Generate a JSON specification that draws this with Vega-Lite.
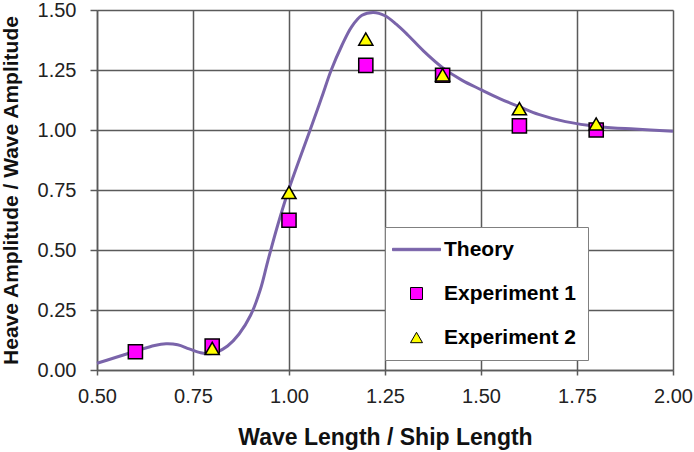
{
  "$schema": "https://vega.github.io/schema/vega-lite/v6.json",
  "width": 576,
  "height": 360,
  "autosize": {"type": "none"},
  "padding": {"left": 97, "top": 10, "right": 21, "bottom": 82},
  "background": "white",
  "config": {
    "view": {"stroke": null},
    "axis": {
      "grid": true,
      "labelFlush": false,
      "gridColor": "#5a5a5a",
      "gridWidth": 1.5,
      "domainColor": "#5a5a5a",
      "domainWidth": 1.5,
      "tickColor": "#5a5a5a",
      "tickWidth": 1.5,
      "labelFont": "Liberation Sans",
      "labelFontSize": 20,
      "labelColor": "#222222",
      "titleFont": "Liberation Sans",
      "titleFontSize": 21,
      "titleFontWeight": "bold",
      "titleColor": "#111111"
    },
    "legend": {
      "title": null,
      "orient": "none",
      "legendX": 288,
      "legendY": 217,
      "fillColor": "white",
      "strokeColor": "#808080",
      "padding": 12,
      "symbolOffset": 9,
      "labelOffset": 17,
      "symbolSize": 144,
      "symbolStrokeWidth": 1,
      "rowPadding": 22,
      "labelFont": "Liberation Sans",
      "labelFontSize": 21,
      "labelFontWeight": "bold",
      "labelColor": "#000000",
      "labelLimit": 300
    }
  },
  "data": {
    "values": [
      {"series": "Theory", "x": 0.50, "y": 0.028},
      {"series": "Theory", "x": 0.55, "y": 0.053},
      {"series": "Theory", "x": 0.60, "y": 0.078},
      {"series": "Theory", "x": 0.65, "y": 0.102},
      {"series": "Theory", "x": 0.68, "y": 0.109},
      {"series": "Theory", "x": 0.71, "y": 0.105},
      {"series": "Theory", "x": 0.74, "y": 0.088},
      {"series": "Theory", "x": 0.77, "y": 0.072},
      {"series": "Theory", "x": 0.79, "y": 0.068},
      {"series": "Theory", "x": 0.81, "y": 0.073},
      {"series": "Theory", "x": 0.84, "y": 0.100},
      {"series": "Theory", "x": 0.87, "y": 0.150},
      {"series": "Theory", "x": 0.90, "y": 0.228},
      {"series": "Theory", "x": 0.925, "y": 0.333},
      {"series": "Theory", "x": 0.945, "y": 0.455},
      {"series": "Theory", "x": 0.97, "y": 0.600},
      {"series": "Theory", "x": 1.00, "y": 0.755},
      {"series": "Theory", "x": 1.055, "y": 1.000},
      {"series": "Theory", "x": 1.085, "y": 1.135},
      {"series": "Theory", "x": 1.11, "y": 1.250},
      {"series": "Theory", "x": 1.137, "y": 1.350},
      {"series": "Theory", "x": 1.163, "y": 1.430},
      {"series": "Theory", "x": 1.19, "y": 1.478},
      {"series": "Theory", "x": 1.22, "y": 1.490},
      {"series": "Theory", "x": 1.25, "y": 1.476},
      {"series": "Theory", "x": 1.28, "y": 1.440},
      {"series": "Theory", "x": 1.31, "y": 1.395},
      {"series": "Theory", "x": 1.35, "y": 1.330},
      {"series": "Theory", "x": 1.40, "y": 1.260},
      {"series": "Theory", "x": 1.45, "y": 1.208},
      {"series": "Theory", "x": 1.50, "y": 1.168},
      {"series": "Theory", "x": 1.55, "y": 1.130},
      {"series": "Theory", "x": 1.60, "y": 1.097},
      {"series": "Theory", "x": 1.65, "y": 1.065},
      {"series": "Theory", "x": 1.72, "y": 1.035},
      {"series": "Theory", "x": 1.81, "y": 1.014},
      {"series": "Theory", "x": 1.90, "y": 1.004},
      {"series": "Theory", "x": 2.00, "y": 0.995},
      {"series": "Experiment 1", "x": 0.6, "y": 0.076},
      {"series": "Experiment 1", "x": 0.8, "y": 0.100},
      {"series": "Experiment 1", "x": 1.0, "y": 0.624},
      {"series": "Experiment 1", "x": 1.2, "y": 1.269},
      {"series": "Experiment 1", "x": 1.4, "y": 1.228},
      {"series": "Experiment 1", "x": 1.6, "y": 1.017},
      {"series": "Experiment 1", "x": 1.8, "y": 1.000},
      {"series": "Experiment 2", "x": 0.8, "y": 0.090},
      {"series": "Experiment 2", "x": 1.0, "y": 0.740},
      {"series": "Experiment 2", "x": 1.2, "y": 1.379},
      {"series": "Experiment 2", "x": 1.4, "y": 1.230},
      {"series": "Experiment 2", "x": 1.6, "y": 1.089},
      {"series": "Experiment 2", "x": 1.8, "y": 1.025}
    ]
  },
  "encoding": {
    "x": {
      "field": "x",
      "type": "quantitative",
      "scale": {"domain": [0.5, 2.0], "nice": false, "zero": false},
      "axis": {
        "title": "Wave Length / Ship Length",
        "titleFontSize": 23,
        "values": [0.5, 0.75, 1.0, 1.25, 1.5, 1.75, 2.0],
        "format": ".2f",
        "tickSize": 5,
        "labelPadding": 11,
        "titleX": 288,
        "titleY": 67,
        "titleBaseline": "middle",
        "titleAlign": "center"
      }
    },
    "y": {
      "field": "y",
      "type": "quantitative",
      "scale": {"domain": [0, 1.5], "nice": false},
      "axis": {
        "title": "Heave Amplitude / Wave Amplitude",
        "values": [0, 0.25, 0.5, 0.75, 1.0, 1.25, 1.5],
        "format": ".2f",
        "tickSize": 7,
        "labelPadding": 14,
        "titleX": -86,
        "titleY": 180,
        "titleAngle": -90,
        "titleBaseline": "middle",
        "titleAlign": "center"
      }
    }
  },
  "layer": [
    {
      "transform": [{"filter": "datum.series === 'Theory'"}],
      "mark": {"type": "line", "interpolate": "catmull-rom", "strokeWidth": 3},
      "encoding": {
        "stroke": {
          "field": "series",
          "type": "nominal",
          "scale": {"domain": ["Theory", "Experiment 1", "Experiment 2"], "range": ["#7a64aa", "#000000", "#000000"]}
        }
      }
    },
    {
      "transform": [{"filter": "datum.series !== 'Theory'"}],
      "mark": {"type": "point", "filled": true, "size": 200, "strokeWidth": 1.5, "opacity": 1},
      "encoding": {
        "shape": {
          "field": "series",
          "type": "nominal",
          "scale": {"domain": ["Theory", "Experiment 1", "Experiment 2"], "range": ["M-4,-0.2H4V0.2H-4Z", "square", "triangle-up"]}
        },
        "fill": {
          "field": "series",
          "type": "nominal",
          "scale": {"domain": ["Theory", "Experiment 1", "Experiment 2"], "range": ["#7a64aa", "#ff00ff", "#ffff00"]}
        },
        "stroke": {
          "field": "series",
          "type": "nominal",
          "scale": {"domain": ["Theory", "Experiment 1", "Experiment 2"], "range": ["#7a64aa", "#000000", "#000000"]}
        }
      }
    }
  ]
}
